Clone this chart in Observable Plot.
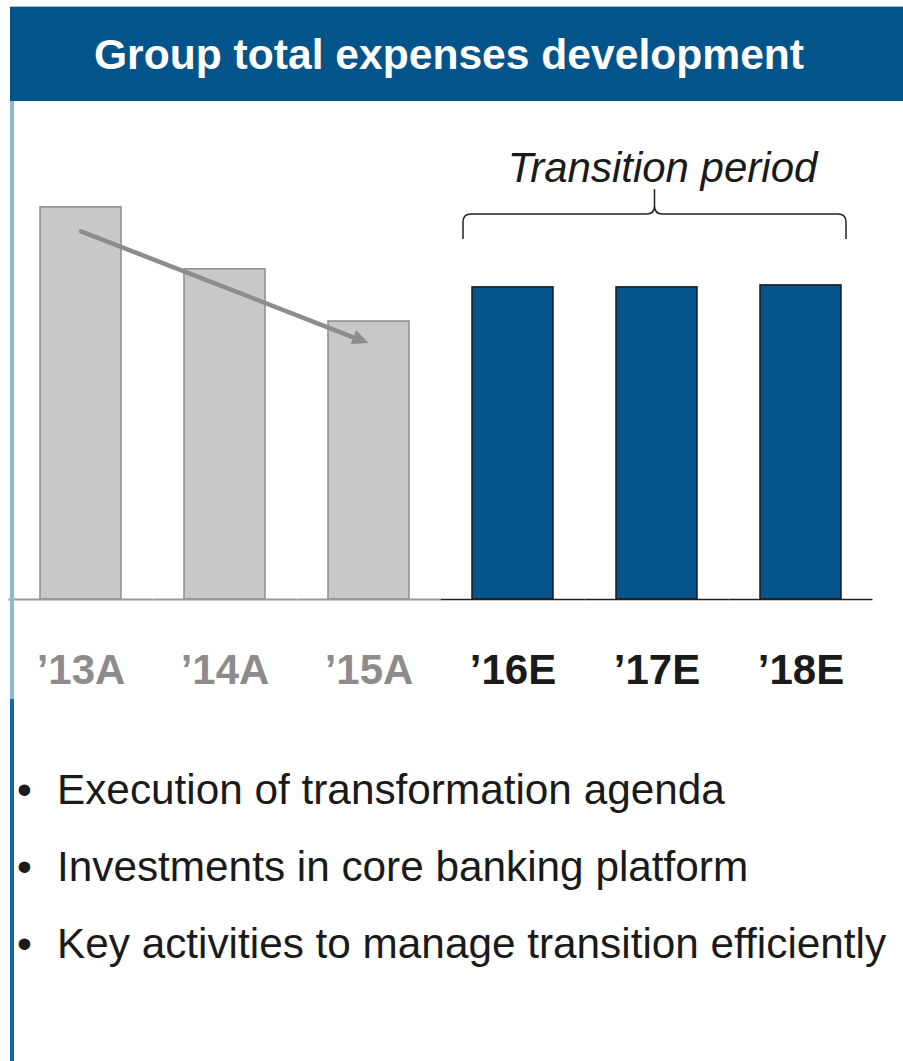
<!DOCTYPE html>
<html>
<head>
<meta charset="utf-8">
<script src="https://cdn.jsdelivr.net/npm/d3@7"></script>
<script src="https://cdn.jsdelivr.net/npm/@observablehq/plot@0.6"></script>
<style>
  html, body { margin: 0; padding: 0; background: #fff; }
  body { width: 903px; height: 1061px; position: relative; overflow: hidden; font-family: "Liberation Sans", Arial, sans-serif; }
  #header { position: absolute; top: 6px; left: 10px; width: 893px; height: 95px; background: #02548a; border-top: 1px solid #9cc2de; box-sizing: border-box; }
  #title { position: absolute; top: 7px; left: 0; width: 898px; height: 94px; line-height: 94px; text-align: center; color: #fff; font-weight: bold; font-size: 42.6px; z-index: 3; }
  #stripeTop { position: absolute; left: 10px; top: 101px; width: 4px; height: 598px; background: #8db8d8; z-index: 4; }
  #stripeBottom { position: absolute; left: 10px; top: 699px; width: 4px; height: 362px; background: #1565a8; z-index: 4; }
  #chart { position: absolute; left: 0; top: 101px; z-index: 1; }
  .bullet { position: absolute; left: 0; height: 77px; line-height: 77px; font-size: 42.3px; color: #1a1a1a; white-space: nowrap; z-index: 2; }
  .bullet .dot { position: absolute; left: 17px; }
  .bullet .txt { position: absolute; left: 57px; }
</style>
</head>
<body>
<div id="header"></div>
<div id="title"></div>
<div id="stripeTop"></div>
<div id="stripeBottom"></div>
<div id="chart"></div>
<div id="bullets"></div>
<script>
// ---- data ----
const titleText = "Group total expenses development";
const years = ["’13A", "’14A", "’15A", "’16E", "’17E", "’18E"];
const expenses = [100, 84.2, 70.9, 79.6, 79.6, 80.1]; // index, '13A = 100
const kinds = ["actual", "actual", "actual", "estimate", "estimate", "estimate"];
const periodLabel = "Transition period";
const periodFrom = "’16E";
const periodTo = "’18E";
const trendFrom = "’13A";
const trendTo = "’15A";
const trendStart = 93.9;
const trendEnd = 65.3;
const bulletPoints = [
  "Execution of transformation agenda",
  "Investments in core banking platform",
  "Key activities to manage transition efficiently"
];

// ---- styles ----
const gray = "#8c8c8c";
const grayFill = "#c8c8c8";
const blue = "#02548a";
const dark = "#1a1a1a";

const rows = years.map((y, i) => ({year: y, value: expenses[i], kind: kinds[i]}));
const actual = rows.filter(d => d.kind === "actual");
const estimate = rows.filter(d => d.kind === "estimate");
const trend = [{x1: trendFrom, x2: trendTo, y1: trendStart, y2: trendEnd}];

document.getElementById("title").textContent = titleText;

// filled arrow head at the end of the trend arrow, placed through the plot's scales
function arrowHeadMark(index, scales) {
  const x = scales.x, y = scales.y;
  const off = x.bandwidth() / 2;
  const x1 = x(trendFrom) + off, y1 = y(trendStart);
  const x2 = x(trendTo) + off, y2 = y(trendEnd);
  const a = Math.atan2(y2 - y1, x2 - x1);
  const len = 16, half = 7.5;
  const bx = x2 - len * Math.cos(a), by = y2 - len * Math.sin(a);
  const px = -Math.sin(a) * half, py = Math.cos(a) * half;
  const pts = [[x2, y2], [bx + px, by + py], [bx - px, by - py]];
  return d3.create("svg:path")
    .attr("d", "M" + pts.map(p => p.join(",")).join("L") + "Z")
    .attr("fill", gray)
    .node();
}

// brace + label as a custom render mark using the plot's own scales
function braceMark(index, scales) {
  const x = scales.x, y = scales.y;
  const bw = x.bandwidth();
  const L = x(periodFrom) - 9;
  const R = x(periodTo) + bw + 5;
  const C = (L + R) / 2;
  const topBar = d3.min(estimate, d => y(d.value));
  const bottom = topBar - 46;
  const mid = bottom - 25;
  const tip = mid - 25;
  const r = 8;
  const g = d3.create("svg:g");
  const p = d3.path();
  p.moveTo(L, bottom);
  p.lineTo(L, mid + r);
  p.quadraticCurveTo(L, mid, L + r, mid);
  p.lineTo(C - r, mid);
  p.quadraticCurveTo(C, mid, C, mid - r);
  p.lineTo(C, tip);
  p.moveTo(C, mid - r);
  p.quadraticCurveTo(C, mid, C + r, mid);
  p.lineTo(R - r, mid);
  p.quadraticCurveTo(R, mid, R, mid + r);
  p.lineTo(R, bottom);
  g.append("path").attr("d", p.toString()).attr("fill", "none").attr("stroke", "#222").attr("stroke-width", 1.5);
  g.append("text")
    .attr("x", C + 8)
    .attr("y", tip - 7)
    .attr("text-anchor", "middle")
    .attr("font-size", 42)
    .attr("font-style", "italic")
    .attr("fill", dark)
    .text(periodLabel);
  return g.node();
}

const chart = Plot.plot({
  width: 903,
  height: 600,
  marginTop: 0,
  marginBottom: 102,
  marginLeft: 8.5,
  marginRight: 30.5,
  style: {fontFamily: "'Liberation Sans', Arial, sans-serif", background: "transparent"},
  x: {domain: years, paddingInner: 0.4375, paddingOuter: 0.21875, axis: null},
  y: {domain: [0, 127], axis: null},
  marks: [
    Plot.barY(actual, {x: "year", y: "value", fill: grayFill, stroke: gray, strokeWidth: 1.5}),
    Plot.barY(estimate, {x: "year", y: "value", fill: blue, stroke: dark, strokeWidth: 1.5}),
    Plot.tickY(actual, {x: "year", y: 0, stroke: "#9a9a9a", strokeWidth: 2, insetLeft: -31.5, insetRight: -31.5}),
    Plot.tickY(estimate, {x: "year", y: 0, stroke: "#222", strokeWidth: 1.5, insetLeft: -31.5, insetRight: -31.5}),
    Plot.arrow(trend, {
      x1: "x1", x2: "x2", y1: "y1", y2: "y2",
      stroke: gray, strokeWidth: 4.5, headLength: 0, insetEnd: 12
    }),
    arrowHeadMark,
    Plot.axisX(years.filter((d, i) => kinds[i] === "actual"), {
      tickSize: 0, tickPadding: 55, fontSize: 42, fontWeight: "bold", fill: gray, label: null
    }),
    Plot.axisX(years.filter((d, i) => kinds[i] === "estimate"), {
      tickSize: 0, tickPadding: 55, fontSize: 42, fontWeight: "bold", fill: dark, label: null
    }),
    braceMark
  ]
});
document.getElementById("chart").appendChild(chart);

const bl = document.getElementById("bullets");
bulletPoints.forEach((t, i) => {
  const div = document.createElement("div");
  div.className = "bullet";
  div.style.top = (751 + i * 77) + "px";
  div.style.width = "903px";
  const dot = document.createElement("span");
  dot.className = "dot";
  dot.textContent = "•";
  const txt = document.createElement("span");
  txt.className = "txt";
  txt.textContent = t;
  div.appendChild(dot);
  div.appendChild(txt);
  bl.appendChild(div);
});
</script>
</body>
</html>
